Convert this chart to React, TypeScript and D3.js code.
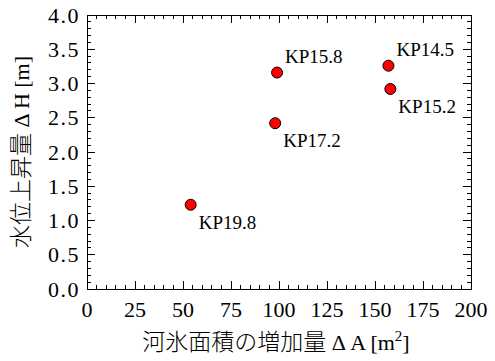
import * as d3 from "d3"

// KP sites: ice area increase vs water level rise
const sites = ["KP14.5", "KP15.2", "KP15.8", "KP17.2", "KP19.8"]
const areaIncrease = [157, 158, 99, 98, 54]
const levelRise = [3.26, 2.92, 3.16, 2.42, 1.23]
const labelBelow = [false, true, false, true, true]

const xTicks = [0, 25, 50, 75, 100, 125, 150, 175, 200]
const yTicks = [0.0, 0.5, 1.0, 1.5, 2.0, 2.5, 3.0, 3.5, 4.0]

const serif = '"Liberation Serif", "Times New Roman", serif'
const cjk = '"Noto Sans CJK JP", sans-serif'

export default function App() {
  const width = 495
  const height = 361
  const margin = { top: 15, right: 24, bottom: 72, left: 87 }
  const x0 = margin.left
  const x1 = width - margin.right
  const y0 = height - margin.bottom
  const y1 = margin.top

  const x = d3.scaleLinear().domain([0, 200]).range([x0, x1])
  const y = d3.scaleLinear().domain([0, 4]).range([y0, y1])

  const xMinor = d3.range(0, 201, 5).filter((v) => v % 25 !== 0)
  const yMinor = d3.range(0, 41, 1).map((v) => v / 10).filter((v, i) => i % 5 !== 0)

  const major = 8
  const minor = 4

  const points = sites.map((name, i) => ({
    name,
    cx: x(areaIncrease[i]),
    cy: y(levelRise[i]),
    below: labelBelow[i],
  }))

  return (
    <svg
      width={width}
      height={height}
      style={{ position: "absolute", left: 0, top: 0, background: "#fff", fontFamily: serif }}
    >
      {/* ticks, all four sides, pointing inward */}
      <g stroke="#000" strokeWidth={1} shapeRendering="crispEdges">
        {xTicks.map((t) => (
          <g key={"xt" + t}>
            <line x1={x(t)} x2={x(t)} y1={y0} y2={y0 - major} />
            <line x1={x(t)} x2={x(t)} y1={y1} y2={y1 + major} />
          </g>
        ))}
        {xMinor.map((t) => (
          <g key={"xm" + t}>
            <line x1={x(t)} x2={x(t)} y1={y0} y2={y0 - minor} />
            <line x1={x(t)} x2={x(t)} y1={y1} y2={y1 + minor} />
          </g>
        ))}
        {yTicks.map((t) => (
          <g key={"yt" + t}>
            <line x1={x0} x2={x0 + major} y1={y(t)} y2={y(t)} />
            <line x1={x1} x2={x1 - major} y1={y(t)} y2={y(t)} />
          </g>
        ))}
        {yMinor.map((t) => (
          <g key={"ym" + t}>
            <line x1={x0} x2={x0 + minor} y1={y(t)} y2={y(t)} />
            <line x1={x1} x2={x1 - minor} y1={y(t)} y2={y(t)} />
          </g>
        ))}
        <rect x={x0} y={y1} width={x1 - x0} height={y0 - y1} fill="none" />
      </g>

      {/* tick labels */}
      <g fill="#000" style={{ fontFamily: serif, fontSize: 22 }}>
        {xTicks.map((t) => (
          <text key={"xl" + t} x={x(t)} y={y0 + 28} textAnchor="middle">
            {t}
          </text>
        ))}
        {yTicks.map((t) => (
          <text
            key={"yl" + t}
            x={x0 - 7}
            y={y(t)}
            dy="0.35em"
            textAnchor="end"
            style={{ letterSpacing: 1.5 }}
          >
            {d3.format(".1f")(t)}
          </text>
        ))}
      </g>

      {/* points */}
      {points.map((p) => (
        <circle key={p.name} cx={p.cx} cy={p.cy} r={5.5} fill="#ff0000" stroke="#000" strokeWidth={1} />
      ))}
      <g fill="#000" style={{ fontFamily: serif, fontSize: 19 }}>
        {points.map((p) => (
          <text key={"lb" + p.name} x={p.cx + 8} y={p.cy + (p.below ? 24 : -10)}>
            {p.name}
          </text>
        ))}
      </g>

      {/* axis titles */}
      <text
        x={276}
        y={350}
        textAnchor="middle"
        fill="#000"
        style={{ fontFamily: serif, fontSize: 22 }}
      >
        <tspan style={{ fontFamily: cjk, fontWeight: 300, fontSize: 23 }}>河氷面積の増加量</tspan>
        <tspan> Δ A [m</tspan>
        <tspan dy={-9} style={{ fontSize: 15 }}>2</tspan>
        <tspan dy={9}>]</tspan>
      </text>
      <text
        transform={`translate(29,152) rotate(-90)`}
        textAnchor="middle"
        fill="#000"
        style={{ fontFamily: serif, fontSize: 22 }}
      >
        <tspan style={{ fontFamily: cjk, fontWeight: 300, fontSize: 23 }}>水位上昇量</tspan>
        <tspan> Δ H [m]</tspan>
      </text>
    </svg>
  )
}
